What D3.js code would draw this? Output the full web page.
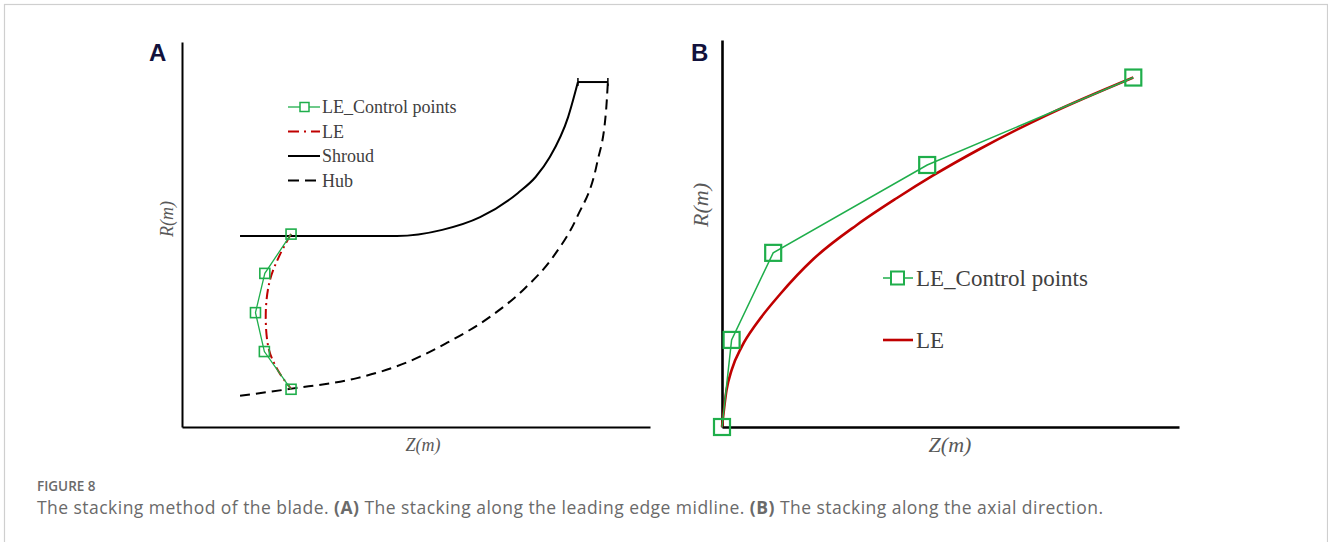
<!DOCTYPE html>
<html>
<head>
<meta charset="utf-8">
<script src="https://cdn.jsdelivr.net/npm/d3@7"></script>
<style>
  body { margin: 0; background: #fff; }
  svg { display: block; }
</style>
</head>
<body>
<div id="fig"></div>
<script>
// Dados (unidades arbitrárias 0-100 em Z e R)

// Painel A
const shroudA = [
  {z: 12.4, r: 49.6}, {z: 30, r: 49.6}, {z: 45.9, r: 49.6}, {z: 55.6, r: 51.2},
  {z: 63.7, r: 54.5}, {z: 71.8, r: 60.8}, {z: 75.6, r: 65.0}, {z: 78.6, r: 70.1},
  {z: 82.5, r: 80.5}, {z: 84.6, r: 89.6}
];
const capA = [{z: 84.6, r: 89.6}, {z: 91.0, r: 89.6}];
const hubA = [
  {z: 12.4, r: 8.1}, {z: 23.1, r: 9.9}, {z: 37.4, r: 12.7}, {z: 48.1, r: 16.8},
  {z: 56.5, r: 21.8}, {z: 65.8, r: 28.6}, {z: 72.9, r: 35.6}, {z: 79.3, r: 44.2},
  {z: 84.4, r: 54.5}, {z: 88.7, r: 68.6}, {z: 90.6, r: 82.0}, {z: 91.0, r: 89.6}
];
const ctrlA = [
  {z: 23.3, r: 50.1}, {z: 17.7, r: 39.9}, {z: 15.7, r: 29.7}, {z: 17.6, r: 19.6}, {z: 23.3, r: 9.8}
];
const leA = [
  {z: 23.3, r: 50.1}, {z: 20.9, r: 44.7}, {z: 18.8, r: 38.2}, {z: 17.9, r: 29.6},
  {z: 18.6, r: 20.0}, {z: 20.7, r: 14.3}, {z: 23.3, r: 9.9}
];

// Painel B
const ctrlB = [
  {z: 0, r: 0}, {z: 2.1, r: 22.5}, {z: 11.2, r: 45.0}, {z: 44.9, r: 67.7}, {z: 90.0, r: 90.3}
];
const leB = [
  {z: 0, r: 0}, {z: 1.0, r: 9.6}, {z: 2.1, r: 14.7}, {z: 4.3, r: 20.7}, {z: 7.6, r: 26.8},
  {z: 12.7, r: 34.3}, {z: 20.0, r: 43.4}, {z: 29.5, r: 52.2}, {z: 38.2, r: 59.1},
  {z: 46.2, r: 65.0}, {z: 56.5, r: 71.9}, {z: 71.1, r: 80.6}, {z: 90.0, r: 90.3}
];

const legendA = ["LE_Control points", "LE", "Shroud", "Hub"];
const legendB = ["LE_Control points", "LE"];

const captionTitle = "FIGURE 8";

const W = 1328, H = 542;
const green = "#1fae4b", red = "#c00000", serif = "'Liberation Serif', 'Times New Roman', serif";

const svg = d3.select("#fig").append("svg")
  .attr("width", W).attr("height", H);

// moldura
svg.append("rect")
  .attr("x", 4.5).attr("y", 4.5)
  .attr("width", 1323).attr("height", 560)
  .attr("fill", "none").attr("stroke", "#cfcfcf").attr("stroke-width", 1.2);

// ---------- Painel A ----------
const xA = d3.scaleLinear().domain([0, 100]).range([182, 650]);
const yA = d3.scaleLinear().domain([0, 100]).range([427, 42]);
const gA = svg.append("g");

gA.append("g")
  .attr("transform", `translate(0,${yA(0)})`)
  .call(d3.axisBottom(xA).tickValues([]).tickSizeOuter(0))
  .select(".domain").attr("stroke", "#000").attr("stroke-width", 2);
gA.append("g")
  .attr("transform", `translate(${xA(0)},0)`)
  .call(d3.axisLeft(yA).tickValues([]).tickSizeOuter(0))
  .select(".domain").attr("stroke", "#000").attr("stroke-width", 2);

const lineA = d3.line().x(d => xA(d.z)).y(d => yA(d.r));

gA.append("path").datum(shroudA)
  .attr("d", lineA.curve(d3.curveMonotoneX))
  .attr("fill", "none").attr("stroke", "#000").attr("stroke-width", 2);

gA.append("path").datum(capA)
  .attr("d", d3.line().x(d => xA(d.z)).y(d => yA(d.r)))
  .attr("fill", "none").attr("stroke", "#000").attr("stroke-width", 2);
gA.selectAll(".captick").data(capA).join("line")
  .attr("x1", d => xA(d.z)).attr("x2", d => xA(d.z))
  .attr("y1", d => yA(d.r) - 4).attr("y2", d => yA(d.r) + 4)
  .attr("stroke", "#000").attr("stroke-width", 1.5);

gA.append("path").datum(hubA)
  .attr("d", d3.line().x(d => xA(d.z)).y(d => yA(d.r)).curve(d3.curveMonotoneX))
  .attr("fill", "none").attr("stroke", "#000").attr("stroke-width", 2)
  .attr("stroke-dasharray", "10,6");

gA.append("path").datum(leA)
  .attr("d", d3.line().x(d => xA(d.z)).y(d => yA(d.r)).curve(d3.curveCatmullRom))
  .attr("fill", "none").attr("stroke", red).attr("stroke-width", 2)
  .attr("stroke-dasharray", "10,4,2,4");

gA.append("path").datum(ctrlA)
  .attr("d", d3.line().x(d => xA(d.z)).y(d => yA(d.r)))
  .attr("fill", "none").attr("stroke", green).attr("stroke-width", 1.3);

gA.selectAll(".ptA").data(ctrlA).join("rect")
  .attr("x", d => xA(d.z) - 5).attr("y", d => yA(d.r) - 5)
  .attr("width", 10).attr("height", 10)
  .attr("fill", "none").attr("stroke", green).attr("stroke-width", 1.6);

// legenda A
const legA = gA.append("g").attr("transform", "translate(288,107)");
legendA.forEach((t, i) => {
  const row = legA.append("g").attr("transform", `translate(0,${i * 24.5})`);
  const ln = row.append("line").attr("x1", 0).attr("x2", 32).attr("y1", 0).attr("y2", 0)
    .attr("stroke-width", i === 0 ? 1.3 : 2);
  if (i === 0) {
    ln.attr("stroke", green);
    row.append("rect").attr("x", 12).attr("y", -4.5).attr("width", 9).attr("height", 9)
      .attr("fill", "#fff").attr("stroke", green).attr("stroke-width", 1.5);
  } else if (i === 1) {
    ln.attr("stroke", red).attr("stroke-dasharray", "11,5,2,5");
  } else if (i === 2) {
    ln.attr("stroke", "#000");
  } else {
    ln.attr("stroke", "#000").attr("stroke-dasharray", "11,6");
  }
  row.append("text").attr("x", 34).attr("y", 0).attr("dy", "0.36em")
    .attr("font-family", serif).attr("font-size", 18).attr("fill", "#404040")
    .text(t);
});

gA.append("text")
  .attr("x", 423).attr("y", 451).attr("text-anchor", "middle")
  .attr("font-family", serif).attr("font-style", "italic").attr("font-size", 18)
  .attr("fill", "#595959").text("Z(m)");
gA.append("text")
  .attr("transform", "translate(173,219) rotate(-90)").attr("text-anchor", "middle")
  .attr("font-family", serif).attr("font-style", "italic").attr("font-size", 18)
  .attr("fill", "#595959").text("R(m)");

// ---------- Painel B ----------
const xB = d3.scaleLinear().domain([0, 100]).range([722, 1179]);
const yB = d3.scaleLinear().domain([0, 100]).range([427, 40]);
const gB = svg.append("g");

gB.append("g")
  .attr("transform", `translate(0,${yB(0)})`)
  .call(d3.axisBottom(xB).tickValues([]).tickSizeOuter(0))
  .select(".domain").attr("stroke", "#000").attr("stroke-width", 2.6);
gB.append("g")
  .attr("transform", `translate(${xB(0)},0)`)
  .call(d3.axisLeft(yB).tickValues([]).tickSizeOuter(0))
  .select(".domain").attr("stroke", "#000").attr("stroke-width", 2.6);

gB.append("path").datum(leB)
  .attr("d", d3.line().x(d => xB(d.z)).y(d => yB(d.r)).curve(d3.curveMonotoneX))
  .attr("fill", "none").attr("stroke", red).attr("stroke-width", 2.6);

gB.append("path").datum(ctrlB)
  .attr("d", d3.line().x(d => xB(d.z)).y(d => yB(d.r)))
  .attr("fill", "none").attr("stroke", green).attr("stroke-width", 1.5);

gB.selectAll(".ptB").data(ctrlB).join("rect")
  .attr("x", d => xB(d.z) - 8).attr("y", d => yB(d.r) - 8)
  .attr("width", 16).attr("height", 16)
  .attr("fill", "none").attr("stroke", green).attr("stroke-width", 2.2);

// legenda B
const legB = gB.append("g").attr("transform", "translate(883,278)");
legendB.forEach((t, i) => {
  const row = legB.append("g").attr("transform", `translate(0,${i * 62})`);
  const ln = row.append("line").attr("x1", 0).attr("x2", 30).attr("y1", 0).attr("y2", 0);
  if (i === 0) {
    ln.attr("stroke", green).attr("stroke-width", 1.5);
    row.append("rect").attr("x", 8).attr("y", -6.5).attr("width", 13).attr("height", 13)
      .attr("fill", "#fff").attr("stroke", green).attr("stroke-width", 2);
  } else {
    ln.attr("stroke", red).attr("stroke-width", 2.6);
  }
  row.append("text").attr("x", 33).attr("y", 0).attr("dy", "0.36em")
    .attr("font-family", serif).attr("font-size", 23).attr("fill", "#404040")
    .text(t);
});

gB.append("text")
  .attr("x", 950).attr("y", 452).attr("text-anchor", "middle")
  .attr("font-family", serif).attr("font-style", "italic").attr("font-size", 22)
  .attr("fill", "#595959").text("Z(m)");
gB.append("text")
  .attr("transform", "translate(708,205) rotate(-90)").attr("text-anchor", "middle")
  .attr("font-family", serif).attr("font-style", "italic").attr("font-size", 22)
  .attr("fill", "#595959").text("R(m)");

// rótulos dos painéis
svg.append("text").attr("x", 149).attr("y", 61)
  .attr("font-family", "'Liberation Sans', Arial, sans-serif").attr("font-weight", "bold")
  .attr("font-size", 24).attr("fill", "#12123c").text("A");
svg.append("text").attr("x", 691).attr("y", 61)
  .attr("font-family", "'Liberation Sans', Arial, sans-serif").attr("font-weight", "bold")
  .attr("font-size", 24).attr("fill", "#12123c").text("B");

// legenda da figura
const capFont = "'Open Sans', 'Noto Sans', sans-serif";
svg.append("text").attr("x", 37).attr("y", 491)
  .attr("font-family", capFont).attr("font-weight", 600).attr("font-size", 13.5)
  .attr("fill", "#6a6a6a").text(captionTitle);

const cap = svg.append("text").attr("x", 37).attr("y", 514)
  .attr("font-family", capFont).attr("font-size", 17.5).attr("fill", "#6a6a6a")
  .attr("textLength", 1066).attr("lengthAdjust", "spacing");
cap.append("tspan").text("The stacking method of the blade. ");
cap.append("tspan").attr("font-weight", "bold").text("(A)");
cap.append("tspan").text(" The stacking along the leading edge midline. ");
cap.append("tspan").attr("font-weight", "bold").text("(B)");
cap.append("tspan").text(" The stacking along the axial direction.");
</script>
</body>
</html>
